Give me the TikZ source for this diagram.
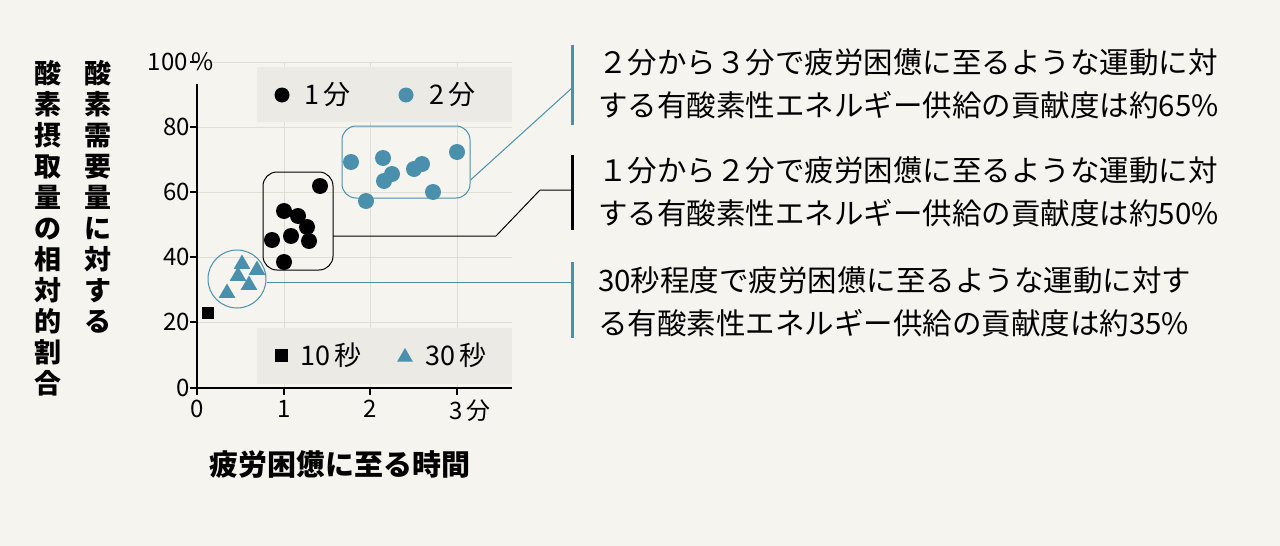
\documentclass[tikz,border=0pt]{standalone}
\usepackage{fontspec}
\setmainfont{Noto Sans CJK JP}
\usetikzlibrary{shapes.geometric}
\definecolor{bg}{HTML}{F6F4EE}
\definecolor{bl}{HTML}{4A90AC}
\definecolor{lg}{HTML}{ECEAE4}
\definecolor{gr}{HTML}{E0DDD5}
\begin{document}
\begin{tikzpicture}[x=1pt,y=-1pt,
 dotb/.style={circle,fill=black,inner sep=0,minimum size=16pt},
 dotl/.style={circle,fill=bl,inner sep=0,minimum size=16pt},
 tri/.style={regular polygon,regular polygon sides=3,fill=bl,inner sep=0,minimum size=19pt},
 sq/.style={fill=black,inner sep=0,minimum size=12pt},
 lab/.style={font=\fontsize{24}{24}\selectfont,inner sep=0},
 leg/.style={font=\fontsize{27}{27}\selectfont,inner sep=0},
 rt/.style={font=\fontsize{29.5}{43}\selectfont,anchor=west,align=left,inner sep=0},
 ax/.style={font=\fontsize{27}{31}\selectfont\bfseries,inner sep=0}]
\fill[bg] (0,0) rectangle (1280,546);
\useasboundingbox (0,0) rectangle (1280,546);
% grid
\foreach \y in {62,127,192,257,322} \draw[gr,line width=1pt] (197,\y) -- (512,\y);
\foreach \x in {284,370,457} \draw[gr,line width=1pt] (\x,62) -- (\x,388);
% legends
\fill[lg] (257,67) rectangle (512,122);
\fill[lg] (257,328) rectangle (512,384);
\node[dotb,minimum size=15pt] (l1) at (282,95) {};
\node[leg,anchor=west] (l1t) at (304,95) {1\,分};
\node[dotl,minimum size=15pt] (l2) at (406,95) {};
\node[leg,anchor=west] (l2t) at (429,95) {2\,分};
\node[sq,minimum size=13pt] (l3) at (281,355) {};
\node[leg,anchor=west] (l3t) at (300,355) {10\,秒};
\node[tri,minimum size=18pt] (l4) at (405,357) {};
\node[leg,anchor=west] (l4t) at (425,355) {30\,秒};
% axes
\draw[line width=2pt] (197,84) -- (197,388) -- (512,388);
\draw[line width=1.5pt] (190,62) -- (197,62);
\foreach \y/\t in {127/80,192/60,257/40,322/20,388/0}{
  \draw[line width=1.5pt] (190,\y) -- (197,\y);
  \node[lab,anchor=east] at (190,\y) {\t};}
\node[lab,anchor=east] (hp) at (214,62) {100\,\%};
\foreach \x/\t in {197/0,284/1,370/2}{
  \draw[line width=1.5pt] (\x,388) -- (\x,395);
  \node[lab,anchor=north] at (\x,400) {\t};}
\draw[line width=1.5pt] (457,388) -- (457,395);
\node[lab,anchor=north] at (470,400) {3\,分};
\node[ax,font=\fontsize{29}{29}\selectfont\bfseries] (xl) at (340,465) {疲労困憊に至る時間};
\node[ax,align=center,anchor=north] (y1) at (98,60) {酸\\素\\需\\要\\量\\に\\対\\す\\る};
\node[ax,align=center,anchor=north] (y2) at (48,60) {酸\\素\\摂\\取\\量\\の\\相\\対\\的\\割\\合};
% group shapes
\draw[line width=1pt,rounded corners=14pt] (263,172) rectangle (333,270);
\node (gb) at (298,221) [minimum width=70pt,minimum height=98pt,inner sep=0] {};
\node[draw=bl,line width=1pt,rounded corners=14pt,minimum width=128pt,minimum height=72pt] (gl) at (406,162) {};
\node[draw=bl,line width=1pt,circle,minimum size=58pt,inner sep=0] (gc) at (237,279) {};
% points
\foreach \x/\y in {320/186,284/211,298/216,307/227,272/240,291/236,309/241,284/262} \node[dotb] at (\x,\y) {};
\foreach \x/\y in {351/162,383/158,457/152,392/174,384/181,414/169,422/164,366/201,433/192} \node[dotl] at (\x,\y) {};
\foreach \x/\y in {242/264,238/276,257/270,249/285,227/293} \node[tri] at (\x,\y) {};
\node[sq] (s) at (208,313) {};
% bars and texts
\coordinate (b1) at (572,88);
\coordinate (b2) at (572,190);
\coordinate (b3) at (572,282);
\draw[bl,line width=3pt] (572,45) -- (572,125);
\draw[line width=3pt] (572,155) -- (572,230);
\draw[bl,line width=3pt] (572,262) -- (572,338);
\draw[bl,line width=1pt] (gl.east) ++(0,18) -- (b1);
\draw[line width=1pt] (gb.east) ++(0,15) -- (496,236) -- (540,190) -- (b2);
\draw[bl,line width=1pt] (gc.east) ++(0,3) -- (b3);
\node[rt] (t1) at (598,84) {２分から３分で疲労困憊に至るような運動に対\\する有酸素性エネルギー供給の貢献度は約65\%};
\node[rt] (t2) at (598,192) {１分から２分で疲労困憊に至るような運動に対\\する有酸素性エネルギー供給の貢献度は約50\%};
\node[rt] (t3) at (598,302) {30秒程度で疲労困憊に至るような運動に対す\\る有酸素性エネルギー供給の貢献度は約35\%};
\end{tikzpicture}
\end{document}
